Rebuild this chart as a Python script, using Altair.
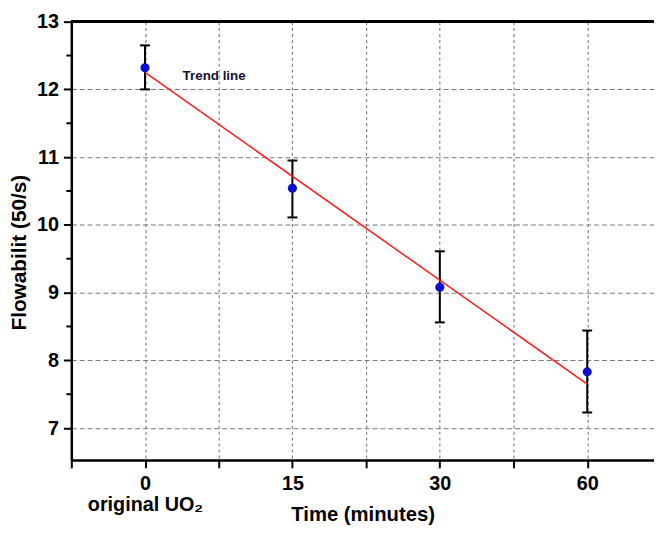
import altair as alt
import pandas as pd

# ---- data ----
time_labels = ["0", "15", "30", "60"]
positions = [0, 1, 2, 3]
flowability = [12.32, 10.54, 9.08, 7.83]
err_low = [12.00, 10.11, 8.56, 7.23]
err_high = [12.65, 10.95, 9.61, 8.44]
trend_x = [0, 3]
trend_y = [12.25, 7.65]
note_text = ["Trend line"]
note_x = [0.255]
note_y = [12.20]
first_label_extra = "original UO₂"
y_major = [7, 8, 9, 10, 11, 12, 13]
y_minor = [7.5, 8.5, 9.5, 10.5, 11.5, 12.5]
x_ticks = [-0.5, 0, 0.5, 1, 1.5, 2, 2.5, 3]

W, H = 589, 443
FONT = "Liberation Sans"

pts = pd.DataFrame({"x": positions, "y": flowability, "lo": err_low, "hi": err_high})
trend = pd.DataFrame({"x": trend_x, "y": trend_y})
note = pd.DataFrame({"x": note_x, "y": note_y, "t": note_text})
minor = pd.DataFrame({"y": y_minor})

xscale = alt.Scale(domain=[-0.5, -0.5 + W / 149.0], nice=False, zero=False)
yscale = alt.Scale(domain=[6.53, 13], nice=False, zero=False)

# label expression built from the tick label list
parts = []
for p, lab in zip(positions, time_labels):
    if p == 0:
        parts.append(f"datum.value === {p} ? ['{lab}', '{first_label_extra}']")
    else:
        parts.append(f"datum.value === {p} ? '{lab}'")
label_expr = " : ".join(parts) + " : ''"

x_axis = alt.Axis(
    values=x_ticks, labelExpr=label_expr, tickSize=8, labelPadding=6,
    labelFontSize=20, labelFontWeight="bold", labelLineHeight=21,
    labelOverlap=False, labelFlush=False, grid=True, gridDash=[3, 3],
    title="Time (minutes)", titleFontSize=20.5, titleFontWeight="bold",
    titleY=55, titleBaseline="middle",
)
y_axis = alt.Axis(
    values=y_major, tickSize=8, labelPadding=5, labelFontSize=20,
    labelFontWeight="bold", grid=True, gridDash=[5, 3],
    title="Flowabilit (50/s)", titleFontSize=21, titleFontWeight="bold",
    titleX=-52, titleY=233, titleAngle=-90, titleBaseline="middle", titleAlign="center",
)


def X(field):
    return alt.X(field, scale=xscale, axis=x_axis)


def Y(field):
    return alt.Y(field, scale=yscale, axis=y_axis)


errbars = alt.Chart(pts).mark_rule(color="black", strokeWidth=2).encode(
    x=X("x:Q"), y=Y("lo:Q"), y2="hi:Q",
)
cap_lo = alt.Chart(pts).mark_rule(color="black", strokeWidth=2, xOffset=-5, x2Offset=5).encode(
    x=X("x:Q"), x2="x:Q", y=Y("lo:Q"),
)
cap_hi = alt.Chart(pts).mark_rule(color="black", strokeWidth=2, xOffset=-5, x2Offset=5).encode(
    x=X("x:Q"), x2="x:Q", y=Y("hi:Q"),
)
trend_line = alt.Chart(trend).mark_line(color="#ff1a1a", strokeWidth=1.5).encode(
    x=X("x:Q"), y=Y("y:Q"),
)
points = alt.Chart(pts).mark_circle(color="#0b0bd0", opacity=1, size=85).encode(
    x=X("x:Q"), y=Y("y:Q"),
)
label = alt.Chart(note).mark_text(
    align="left", baseline="middle", font=FONT, fontSize=13.5, fontWeight="bold", color="#141432"
).encode(
    x=X("x:Q"), y=Y("y:Q"), text="t:N",
)
minor_ticks = alt.Chart(minor).mark_rule(color="black", strokeWidth=2).encode(
    y=Y("y:Q"), x=alt.value(-5), x2=alt.value(0),
)
top_border = alt.Chart(minor).mark_rule(color="black", strokeWidth=2.5).encode(
    x=alt.value(0), x2=alt.value(W), y=alt.value(0),
)

chart = alt.layer(
    errbars, cap_lo, cap_hi, trend_line, points, label, minor_ticks, top_border
).properties(
    width=W, height=H,
    autosize=alt.AutoSizeParams(type="none"),
    padding={"left": 64, "top": 11, "right": 0, "bottom": 65},
).configure_view(stroke=None).configure_axis(
    labelFont=FONT, titleFont=FONT, labelColor="black", titleColor="black",
    domainColor="black", domainWidth=2.5, tickColor="black", tickWidth=2,
    gridColor="#7a7a7a", gridWidth=1.1,
)

chart.save("out.html", embed_options={"renderer": "svg", "actions": False})
